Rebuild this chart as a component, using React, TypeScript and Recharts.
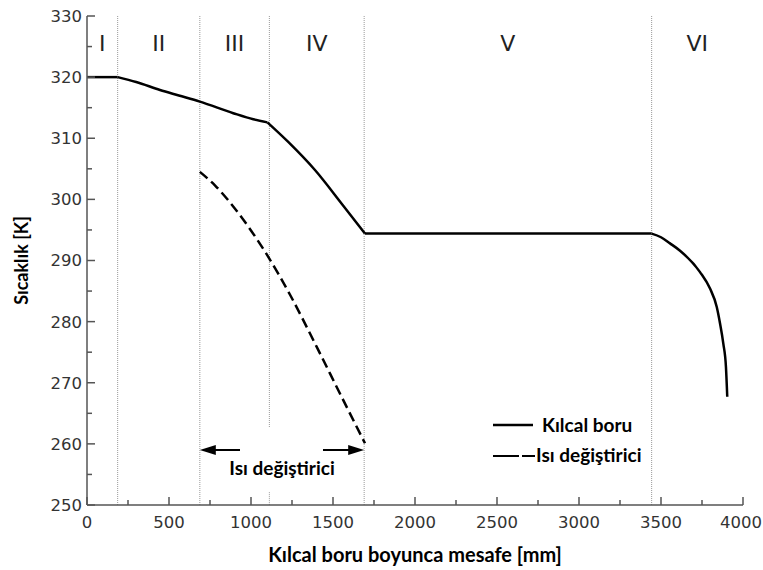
import React from "react";
import {
  LineChart,
  Line,
  XAxis,
  YAxis,
  ReferenceLine,
  ReferenceArea,
} from "recharts";

// Kılcal boru (solid)
const kilcalX = [0, 187, 300, 445, 560, 688, 892, 1014, 1100, 1227, 1390, 1553, 1695, 2500, 3000, 3443, 3500, 3555, 3616, 3738, 3799, 3840, 3860, 3880, 3896, 3904];
const kilcalT = [320, 320, 319.2, 317.9, 317.0, 316.0, 314.1, 313.1, 312.6, 309.4, 304.8, 299.3, 294.4, 294.4, 294.4, 294.4, 293.8, 292.8, 291.6, 288.1, 285.4, 282.4, 279.7, 276.4, 272.6, 267.7];
// indices where the solid curve has a kink (region boundaries)
const kinks = [1, 8, 12, 15];

// Isı değiştirici (dashed)
const esanjorX = [688, 780, 872, 982, 1096, 1238, 1400, 1543, 1695];
const esanjorT = [304.5, 302.3, 299.5, 295.6, 291.0, 284.4, 275.9, 268.2, 260.1];

const xTicks = [0, 250, 500, 750, 1000, 1250, 1500, 1750, 2000, 2250, 2500, 2750, 3000, 3250, 3500, 3750, 4000];
const yTicks = [250, 255, 260, 265, 270, 275, 280, 285, 290, 295, 300, 305, 310, 315, 320, 325, 330];

const boundaries = [187, 688, 1112, 1690, 3443];
const regions = ["I", "II", "III", "IV", "V", "VI"];

const kilcalData = kilcalX.map((x, i) => ({ x, t: kilcalT[i] }));
const cuts = [0, ...kinks, kilcalX.length - 1];
const kilcalSegments = cuts.slice(0, -1).map((s, i) => kilcalData.slice(s, cuts[i + 1] + 1));
const esanjorData = esanjorX.map((x, i) => ({ x, t: esanjorT[i] }));
const edges = [0, ...boundaries, 4000];

const AXIS = "#555";
const TICK_FONT = "DejaVu Sans";
const BOLD_FONT = "Lato";

const BottomTick = (props: any) => {
  const { x, y, payload } = props;
  const major = payload.value % 500 === 0;
  const ay = y - 10;
  // keep the last label inside the page
  const tx = Math.min(x, 741);
  return (
    <g>
      <line x1={x} x2={x} y1={ay} y2={ay - (major ? 8 : 5)} stroke={AXIS} strokeWidth={1.5} />
      {major && (
        <text x={tx} y={y} dy="0.8em" textAnchor="middle" fontSize={16.5} fontFamily={TICK_FONT} fill="#333">
          {payload.value}
        </text>
      )}
    </g>
  );
};

const TopTick = (props: any) => {
  const { x, y, payload } = props;
  const major = payload.value % 500 === 0;
  return <line x1={x} x2={x} y1={y} y2={y + (major ? 8 : 5)} stroke={AXIS} strokeWidth={1.5} />;
};

const LeftTick = (props: any) => {
  const { x, y, payload } = props;
  const major = payload.value % 10 === 0;
  const ax = x + 5;
  return (
    <g>
      <line x1={ax} x2={ax + (major ? 8 : 5)} y1={y} y2={y} stroke={AXIS} strokeWidth={1.5} />
      {major && (
        <text x={x} y={y} dy="0.36em" textAnchor="end" fontSize={16.5} fontFamily={TICK_FONT} fill="#333">
          {payload.value}
        </text>
      )}
    </g>
  );
};

const RightTick = (props: any) => {
  const { x, y, payload } = props;
  const major = payload.value % 10 === 0;
  return <line x1={x} x2={x - (major ? 8 : 5)} y1={y} y2={y} stroke={AXIS} strokeWidth={1.5} />;
};

const Arrow = (props: any) => {
  const { x1, y1, x2, y2 } = props;
  const d = Math.sign(x2 - x1);
  return (
    <g>
      <line x1={x1} y1={y1} x2={x2 - d * 10} y2={y2} stroke="#000" strokeWidth={2} />
      <polygon points={`${x2},${y2} ${x2 - d * 16},${y2 - 5} ${x2 - d * 16},${y2 + 5}`} fill="#000" />
    </g>
  );
};

const LegendBox = () => (
  <div
    style={{
      position: "absolute",
      left: 490,
      top: 410,
      fontFamily: BOLD_FONT,
      fontWeight: 700,
      fontSize: 19,
      color: "#000",
      lineHeight: "30px",
    }}
  >
    <div style={{ display: "flex", alignItems: "center", height: 30 }}>
      <svg width={52} height={20}>
        <line x1={3} x2={43} y1={10} y2={10} stroke="#000" strokeWidth={2.5} />
      </svg>
      <span>Kılcal boru</span>
    </div>
    <div style={{ display: "flex", alignItems: "center", height: 30 }}>
      <svg width={46} height={20}>
        <line x1={3} x2={45} y1={11} y2={11} stroke="#000" strokeWidth={2} strokeDasharray="26 3" />
      </svg>
      <span>Isı değiştirici</span>
    </div>
  </div>
);

export default function App() {
  return (
    <div style={{ position: "absolute", left: 0, top: 0, width: 763, height: 570, background: "#fff" }}>
      <LineChart width={763} height={570} margin={{ top: 16, right: 20, bottom: 0, left: 0 }}>
        <XAxis
          xAxisId={0}
          dataKey="x"
          type="number"
          domain={[0, 4000]}
          ticks={xTicks}
          interval={0}
          height={65}
          tickSize={0}
          tickMargin={10}
          tickLine={false}
          tick={<BottomTick />}
          axisLine={{ stroke: AXIS, strokeWidth: 1.5 }}
          label={{
            value: "Kılcal boru boyunca mesafe [mm]",
            position: "insideBottom",
            offset: 8,
            fontSize: 20,
            fontFamily: BOLD_FONT,
            fontWeight: 700,
            fill: "#000",
          }}
        />
        <XAxis
          xAxisId="top"
          orientation="top"
          dataKey="x"
          type="number"
          domain={[0, 4000]}
          ticks={xTicks}
          interval={0}
          height={0}
          tickSize={0}
          tickMargin={0}
          tickLine={false}
          tick={<TopTick />}
          axisLine={{ stroke: AXIS, strokeWidth: 1.5 }}
        />
        <YAxis
          yAxisId={0}
          type="number"
          domain={[250, 330]}
          ticks={yTicks}
          interval={0}
          width={87}
          tickSize={0}
          tickMargin={5}
          tickLine={false}
          tick={<LeftTick />}
          axisLine={{ stroke: AXIS, strokeWidth: 1.5 }}
          label={{
            value: "Sıcaklık [K]",
            angle: -90,
            position: "insideLeft",
            offset: 22,
            fontSize: 18,
            fontFamily: BOLD_FONT,
            fontWeight: 700,
            fill: "#000",
            style: { textAnchor: "middle" },
          }}
        />
        <YAxis
          yAxisId="right"
          orientation="right"
          type="number"
          domain={[250, 330]}
          ticks={yTicks}
          interval={0}
          width={0}
          tickSize={0}
          tickMargin={0}
          tickLine={false}
          tick={<RightTick />}
          axisLine={{ stroke: AXIS, strokeWidth: 1.5 }}
        />

        {regions.map((r, i) => (
          <ReferenceArea
            key={r}
            x1={edges[i]}
            x2={edges[i + 1]}
            y1={250}
            y2={330}
            fill="none"
            stroke="none"
            label={{ value: r, position: "insideTop", offset: 19, fontSize: 22, fontFamily: TICK_FONT, fill: "#222" }}
          />
        ))}

        {boundaries.map((b) =>
          b === 1112 ? null : (
            <ReferenceLine key={b} x={b} stroke="#999" strokeDasharray="1 1" strokeWidth={1} />
          )
        )}
        <ReferenceLine segment={[{ x: 1112, y: 330 }, { x: 1112, y: 262.7 }]} stroke="#999" strokeDasharray="1 1" />
        <ReferenceLine segment={[{ x: 1112, y: 252.1 }, { x: 1112, y: 250 }]} stroke="#999" strokeDasharray="1 1" />

        <ReferenceLine segment={[{ x: 933, y: 259 }, { x: 688, y: 259 }]} shape={<Arrow />} />
        <ReferenceLine segment={[{ x: 1439, y: 259 }, { x: 1690, y: 259 }]} shape={<Arrow />} />
        <ReferenceArea
          x1={688}
          x2={1690}
          y1={253}
          y2={259}
          fill="none"
          stroke="none"
          label={{
            value: "Isı değiştirici",
            position: "center",
            fontSize: 19,
            fontFamily: BOLD_FONT,
            fontWeight: 700,
            fill: "#000",
          }}
        />

        {kilcalSegments.map((seg, i) => (
          <Line
            key={"k" + i}
            data={seg}
            dataKey="t"
            type="monotone"
            stroke="#000"
            strokeWidth={2.5}
            dot={false}
            isAnimationActive={false}
          />
        ))}
        <Line
          data={esanjorData}
          dataKey="t"
          type="monotone"
          stroke="#000"
          strokeWidth={2.5}
          strokeDasharray="10 5"
          dot={false}
          isAnimationActive={false}
        />
      </LineChart>
      <LegendBox />
    </div>
  );
}
